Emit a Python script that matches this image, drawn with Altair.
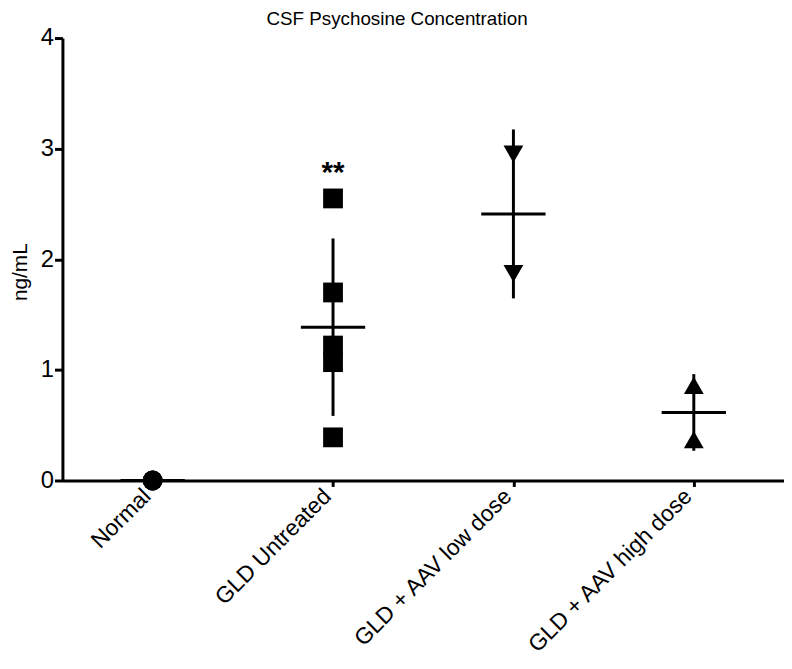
import altair as alt
import pandas as pd

# Groups and individual sample values (ng/mL)
groups = ["Normal", "GLD Untreated", "GLD + AAV low dose", "GLD + AAV high dose"]
normal_vals = [0.0, 0.0, 0.0]
untreated_vals = [2.55, 1.70, 1.22, 1.07, 0.39]
low_dose_vals = [2.95, 1.87]
high_dose_vals = [0.86, 0.37]
shapes = ["circle", "square", "triangle-down", "triangle-up"]
sizes = [400, 400, 484, 484]

# Significance annotation
annot_group = ["GLD Untreated"]
annot_text = ["**"]
annot_y = [2.70]

rows = []
for g, vals in zip(groups, [normal_vals, untreated_vals, low_dose_vals, high_dose_vals]):
    for v in vals:
        rows.append({"group": g, "value": v})
df = pd.DataFrame(rows)
ann = pd.DataFrame({"group": annot_group, "text": annot_text, "y": annot_y})

font = "Liberation Sans"

x_scale = alt.Scale(type="point", padding=0.5, domain=groups)
x_enc = alt.X("group:N", sort=groups, scale=x_scale,
              axis=alt.Axis(title=None, labelAngle=315, labelAlign="right", labelBaseline="middle",
                            labelFontSize=23, labelFont=font, labelColor="black",
                            domainColor="black", domainWidth=3, tickColor="black",
                            tickWidth=3, tickSize=6, labelPadding=6, labelOffset=-6,
                            labelLimit=400, grid=False))
y_scale = alt.Scale(domain=[0, 4], nice=False)
y_axis = alt.Axis(title="ng/mL", values=[0, 1, 2, 3, 4], grid=False, format="d",
                  labelFontSize=24, labelFont=font, labelColor="black", labelPadding=1,
                  domainColor="black", domainWidth=3, tickColor="black", tickWidth=3,
                  tickSize=8, titleFontSize=21, titleFont=font, titleFontWeight="normal",
                  titleColor="black", titleAngle=270, titleX=-42, titleY=236,
                  titleAlign="center", titleBaseline="middle")

base = alt.Chart(df)

stats = base.transform_aggregate(
    mean="mean(value)", sd="stdev(value)", groupby=["group"]
).transform_calculate(
    sd0="isValid(datum.sd) ? datum.sd : 0"
).transform_calculate(
    lo="datum.mean - datum.sd0", hi="datum.mean + datum.sd0"
)

err = stats.mark_rule(color="black", strokeWidth=3).encode(
    x=x_enc, y=alt.Y("lo:Q", scale=y_scale, axis=y_axis), y2="hi:Q"
)
mean_tick = stats.mark_tick(color="black", size=65, thickness=3, opacity=1).encode(
    x=x_enc, y=alt.Y("mean:Q", scale=y_scale, axis=y_axis)
)
pts = base.mark_point(filled=True, color="black", opacity=1).encode(
    x=x_enc,
    y=alt.Y("value:Q", scale=y_scale, axis=y_axis),
    shape=alt.Shape("group:N", sort=groups, scale=alt.Scale(domain=groups, range=shapes), legend=None),
    size=alt.Size("group:N", sort=groups, scale=alt.Scale(domain=groups, range=sizes), legend=None),
)
txt = alt.Chart(ann).mark_text(fontSize=30, fontWeight="bold", font=font, color="black",
                               baseline="alphabetic").encode(
    x=x_enc,
    y=alt.Y("y:Q", scale=y_scale, axis=y_axis),
    text="text:N",
)

chart = alt.layer(err, mean_tick, pts, txt).properties(
    width=729, height=447,
    background="white",
    title=alt.TitleParams("CSF Psychosine Concentration", fontSize=19, font=font,
                          fontWeight="normal", color="black", anchor="middle",
                          frame="bounds", offset=-3),
    autosize=alt.AutoSizeParams(type="none"),
    padding={"left": 55, "top": 27, "right": 0, "bottom": 179},
).configure_view(
    stroke="transparent", strokeWidth=0
).configure_axis(
    grid=False
)

chart.save("out.html", embed_options={"renderer": "svg", "actions": False})
